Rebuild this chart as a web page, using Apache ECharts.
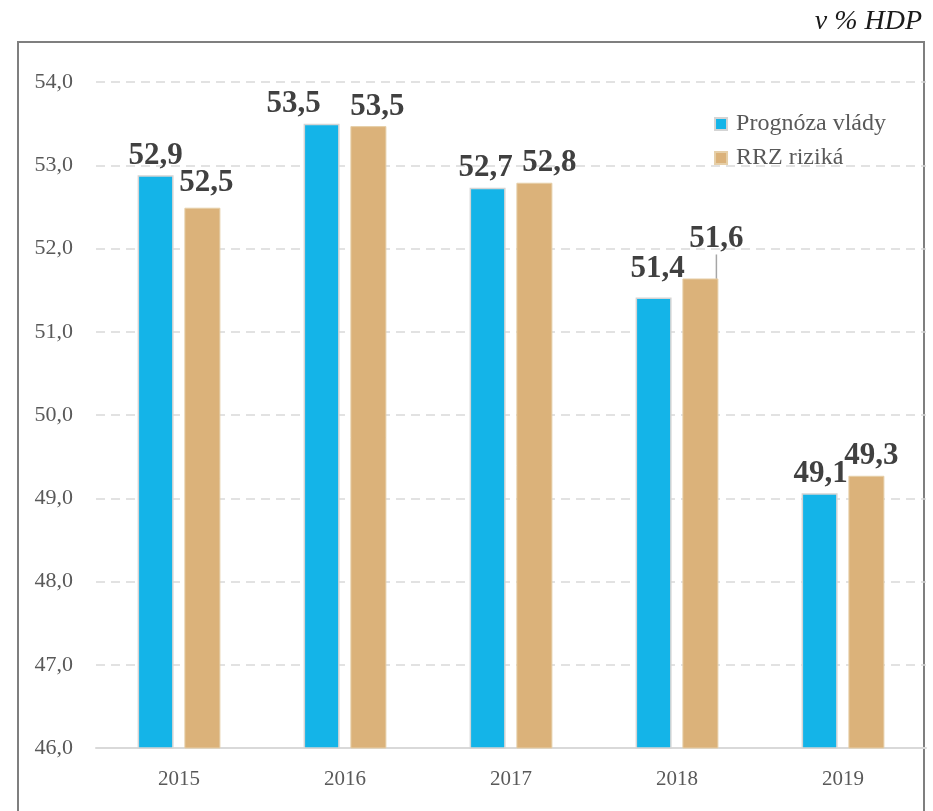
<!DOCTYPE html>
<html><head><meta charset="utf-8">
<script src="https://cdn.jsdelivr.net/npm/echarts@6/dist/echarts.min.js"></script>
<style>html,body{margin:0;padding:0;background:#fff}#c{width:933px;height:811px}</style>
</head><body><div id="c"></div>
<script>
var categories = ['2015', '2016', '2017', '2018', '2019'];
var vlada = [52.88, 53.50, 52.73, 51.41, 49.06];
var rrz = [52.49, 53.47, 52.79, 51.64, 49.27];
var seriesNames = ['Prognóza vlády', 'RRZ riziká'];
var yTicks = { min: 46, max: 54, interval: 1 };

// label nudges (style only)
var blueShift = [[0,0],[-28,0],[-2,0],[4,-9],[1,0]];
var orangeShift = [[4,-5],[9,0],[15,0],[16,-20],[5,0]];

var fmt = function (p) { var v = typeof p.value === 'object' ? p.value.value : p.value; return v.toFixed(1).replace('.', ','); };
var serif = '"Liberation Serif", "DejaVu Serif", serif';
var labelStyle = { show: true, position: 'top', distance: 4, formatter: fmt,
  fontFamily: serif, fontWeight: 'bold', fontSize: 31, color: '#404040' };

var chart = echarts.init(document.getElementById('c'), null, { renderer: 'canvas' });
var rrzData = rrz.map(function (v, i) {
  return i === 3 ? { value: v, labelLine: { show: true, lineStyle: { color: '#a6a6a6', width: 1.5 } } } : v;
});
chart.setOption({
  animation: false,
  backgroundColor: '#fff',
  title: { text: 'v % HDP', right: 6, top: 3,
    textStyle: { fontFamily: serif, fontStyle: 'italic', fontWeight: 'normal', fontSize: 28, color: '#1a1a1a' } },
  graphic: [{ type: 'rect', shape: { x: 18, y: 42, width: 906, height: 800 },
    style: { fill: 'none', stroke: '#7f7f7f', lineWidth: 2 }, silent: true, z: -1 }],
  legend: { orient: 'vertical', right: 42, top: 107, itemWidth: 12, itemHeight: 12, itemGap: 10,
    icon: 'rect', textStyle: { fontFamily: serif, fontSize: 24, color: '#595959', padding: [0, 0, 0, 4] } },
  grid: { left: 96, right: 7, top: 82, bottom: 63, containLabel: false },
  xAxis: { type: 'category', data: categories,
    axisLine: { lineStyle: { color: '#d9d9d9', width: 2 } }, axisTick: { show: false },
    axisLabel: { fontFamily: serif, fontSize: 21, color: '#595959', margin: 21 } },
  yAxis: { type: 'value', min: yTicks.min, max: yTicks.max, interval: yTicks.interval,
    axisLine: { show: false }, axisTick: { show: false },
    axisLabel: { fontFamily: serif, fontSize: 22, color: '#595959', margin: 23,
      formatter: function (v) { return v.toFixed(1).replace('.', ','); } },
    splitLine: { lineStyle: { color: '#d9d9d9', type: [9, 6], width: 1.5 } } },
  series: [
    { name: seriesNames[0], type: 'bar', data: vlada, barWidth: 36, barGap: '30%',
      itemStyle: { color: '#14b4e8', borderColor: '#d4d4d4', borderWidth: 1.5 },
      label: labelStyle,
      labelLayout: function (p) { var s = blueShift[p.dataIndex]; return { dx: s[0], dy: s[1] }; } },
    { name: seriesNames[1], type: 'bar', data: rrzData, barWidth: 36,
      itemStyle: { color: '#dbb27a', borderColor: '#e6cfa8', borderWidth: 1 },
      label: labelStyle,
      labelLine: { show: false },
      labelLayout: function (p) { var s = orangeShift[p.dataIndex]; return { dx: s[0], dy: s[1] }; } }
  ]
});
</script></body></html>
